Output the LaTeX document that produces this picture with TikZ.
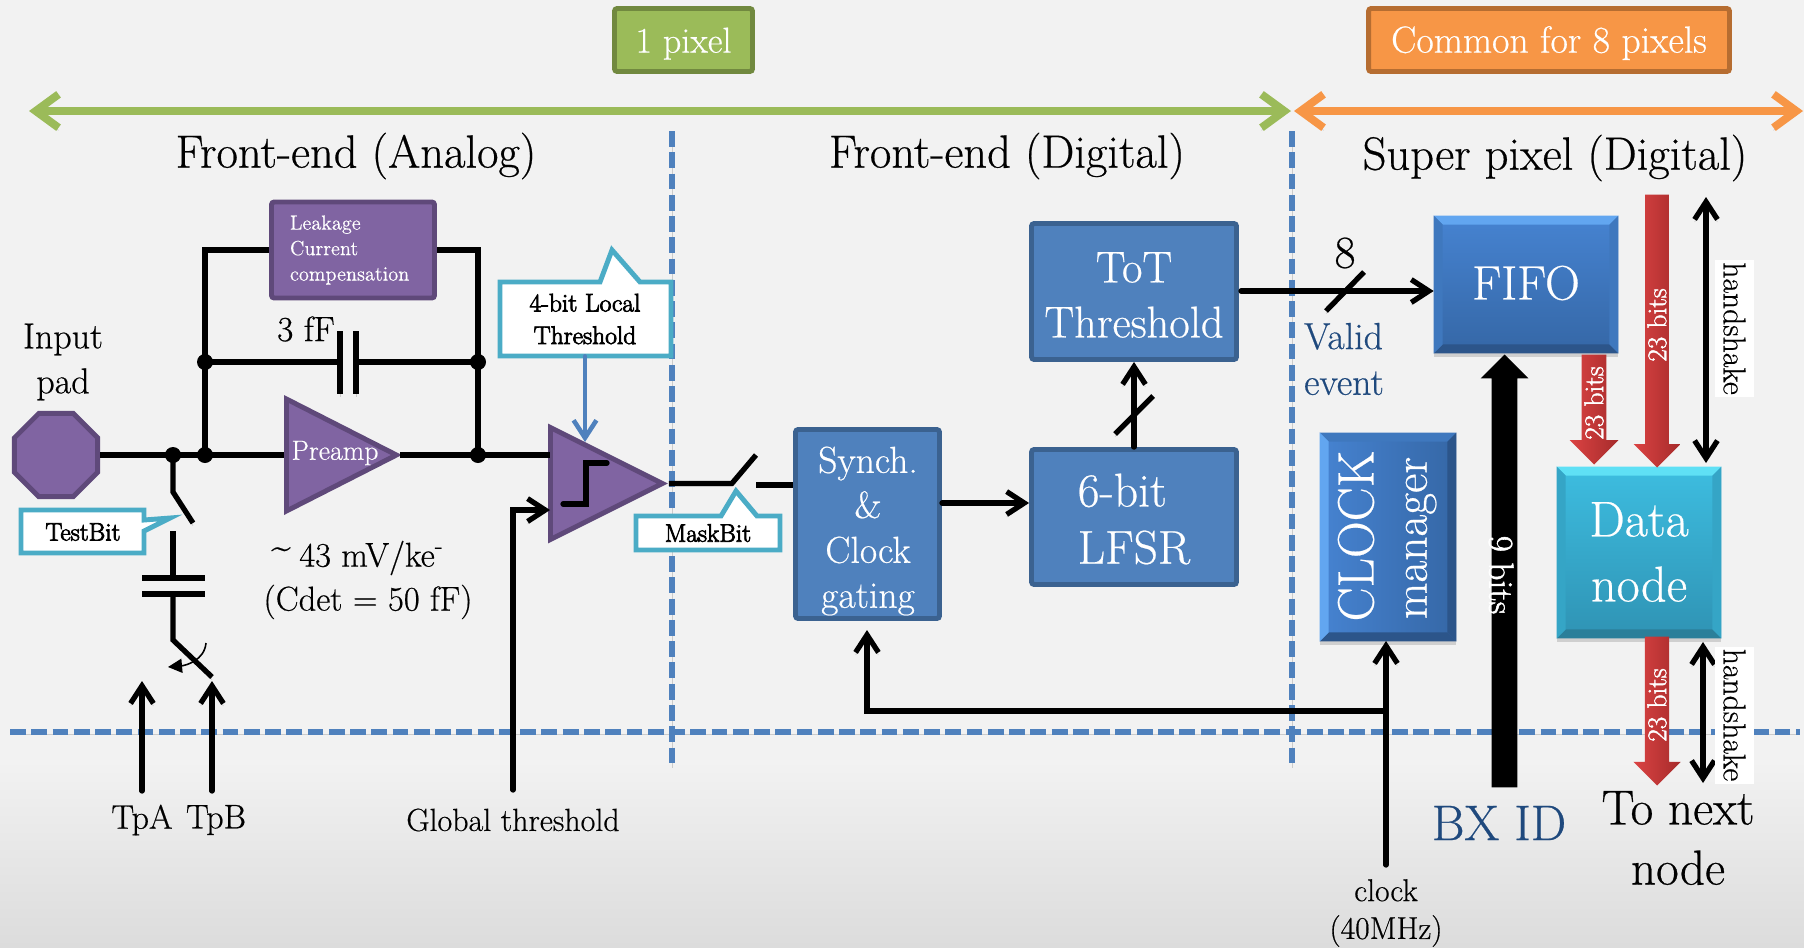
\documentclass[tikz,border=0pt]{standalone}
\usepackage{fontspec}
\setmainfont{Latin Modern Roman}[FakeBold=.5]
\newfontfamily\heavyfont{Latin Modern Roman}[FakeBold=3]
\newfontfamily\midfont{Latin Modern Roman}[FakeBold=1.5]
\usetikzlibrary{arrows.meta,calc,shapes.geometric,shapes.arrows,shadows}

\definecolor{pagegray}{HTML}{F2F2F2}
\definecolor{pagelow}{HTML}{DCDCDC}
\definecolor{navytext}{HTML}{1F497D}
\definecolor{dashblue}{HTML}{4F81BD}
\definecolor{boxblue}{HTML}{4F81BD}
\definecolor{boxedge}{HTML}{3B6290}
\definecolor{purplefill}{HTML}{8064A2}
\definecolor{purpleedge}{HTML}{5F497A}
\definecolor{tealedge}{HTML}{4BACC6}
\definecolor{greenfill}{HTML}{9BBB59}
\definecolor{greenedge}{HTML}{71893F}
\definecolor{orangefill}{HTML}{F79646}
\definecolor{orangeedge}{HTML}{B66D31}
\definecolor{fifotop}{HTML}{4683D1}
\definecolor{fifolow}{HTML}{3567A6}
\definecolor{fifolight}{HTML}{62A6F0}
\definecolor{fifodark}{HTML}{2C558A}
\definecolor{fifomid}{HTML}{3F78BE}
\definecolor{nodetop}{HTML}{3DBDE0}
\definecolor{nodelow}{HTML}{2F93B4}
\definecolor{nodelight}{HTML}{5FE0F5}
\definecolor{nodedark}{HTML}{2A7F9A}
\definecolor{nodemid}{HTML}{35A5C6}
\definecolor{redlight}{HTML}{DB4343}
\definecolor{reddark}{HTML}{A62B2B}

% bevel strips on the shaded blocks: top, bottom, left, right
\newcommand{\bevel}[5]{
  \fill[#2] (#1.north west) -- (#1.north east) -- ($(#1.north east)+(-9,9)$) -- ($(#1.north west)+(9,9)$) -- cycle;
  \fill[#3] (#1.south west) -- (#1.south east) -- ($(#1.south east)+(-9,-9)$) -- ($(#1.south west)+(9,-9)$) -- cycle;
  \fill[#4] (#1.north west) -- (#1.south west) -- ($(#1.south west)+(9,-9)$) -- ($(#1.north west)+(9,9)$) -- cycle;
  \fill[#5] (#1.north east) -- (#1.south east) -- ($(#1.south east)+(-9,-9)$) -- ($(#1.north east)+(-9,9)$) -- cycle;
}

\tikzset{
  softshadow/.style={preaction={draw=black,opacity=.16,transform canvas={yshift=-1.5pt}}},
  wire/.style={line width=3pt,black,softshadow},
  arrowwire/.style={wire,line cap=round,-{Straight Barb[length=10pt,width=13pt]}},
  twowire/.style={wire,line cap=round,{Straight Barb[length=10pt,width=13pt]}-{Straight Barb[length=10pt,width=13pt]}},
  boundary/.style={line width=3.2pt,dashblue,dash pattern=on 9pt off 3.1pt,softshadow},
  span/.style={line width=4.5pt,line cap=round,softshadow,{Straight Barb[length=13pt,width=19pt]}-{Straight Barb[length=13pt,width=19pt]}},
  block/.style={draw=boxedge,fill=boxblue,line width=2.8pt,rounded corners=1.5pt,inner sep=0pt},
  blocktext/.style={text=white,align=center,inner sep=0pt},
  pill/.style={line width=2.8pt,rounded corners=1.5pt,text=white,text height=14.4pt,text depth=0pt},
  amp/.style={shape=isosceles triangle,isosceles triangle stretches,draw=purpleedge,fill=purplefill,line width=2.8pt,inner sep=0pt,anchor=lower side},
  callout/.style={draw=tealedge,fill=white,line width=2.8pt,line join=miter},
  callouttext/.style={align=center,font=\heavyfont\fontsize{14.5}{18.5}\selectfont},
  shaded3d/.style={text=white,drop shadow={shadow xshift=0pt,shadow yshift=-2pt,opacity=.3}},
  fat/.style={shape=single arrow,inner sep=0pt,single arrow tip angle=90,text depth=0pt,rotate=#1,anchor=tip},
  redfat/.style={fat=-90,left color=redlight,right color=reddark},
  bitstext/.style={text=white,inner sep=0pt,font=\midfont\fontsize{15.5}{18}\selectfont},
  shakelabel/.style={fill=white,inner sep=0pt,rotate=-90,minimum width=2.74cm,minimum height=.78cm,font=\fontsize{18}{20}\selectfont},
  head/.style={font=\fontsize{26.5}{29}\selectfont},
  plain/.style={align=center,font=\fontsize{19.4}{25.6}\selectfont}
}

\begin{document}
\begin{tikzpicture}[x=.02cm,y=-.02cm]
\useasboundingbox (0,0) rectangle (1804,947);
\fill[pagegray] (0,0) rectangle (1804,760);
\fill[top color=pagegray,bottom color=pagelow] (0,760) rectangle (1804,947);

% region boundaries
\coordinate (hb0) at (10,732);
\coordinate (hb1) at (1800,732);
\coordinate (vb0) at (672,131);
\coordinate (vb1) at (672,765);
\coordinate (vc0) at (1292,131);
\coordinate (vc1) at (1292,765);
\draw[boundary] (hb0) -- (hb1);
\draw[boundary] (vb0) -- (vb1);
\draw[boundary] (vc0) -- (vc1);

% spans on top
\node[pill,draw=greenedge,fill=greenfill,minimum width=2.76cm,minimum height=1.26cm,font=\fontsize{20.5}{24}\selectfont] (onepixel) at (683.5,40) {1 pixel};
\node[pill,draw=orangeedge,fill=orangefill,minimum width=7.22cm,minimum height=1.26cm,font=\fontsize{21.5}{24}\selectfont] (eightpixels) at (1549,40) {Common for 8 pixels};
\coordinate (spanl) at (29,111);
\coordinate (spanm) at (1291,111);
\coordinate (spann) at (1294,111);
\coordinate (spanr) at (1803,111);
\draw[span,greenfill] (spanl) -- (spanm);
\draw[span,orangefill] (spann) -- (spanr);
\node[head] (hanalog) at (356,156) {Front-end (Analog)};
\node[head] (hdigital) at (1007,156) {Front-end (Digital)};
\node[head] (hsuper) at (1555,158) {Super pixel (Digital)};

% analog part
\node[draw=purpleedge,fill=purplefill,line width=2.8pt,shape=regular polygon,regular polygon sides=8,minimum size=1.8cm,inner sep=0pt] (pad) at (56,455) {};
\node[plain,font=\fontsize{20.5}{25.6}\selectfont] (padtext) at (63,362) {Input\\pad};
\node[block,draw=purpleedge,fill=purplefill,text=white,minimum width=3.26cm,minimum height=1.92cm,text width=2.52cm,align=left,font=\fontsize{11.6}{14.5}\selectfont] (leak) at (353,250) {Leakage\\Current\\compensation};
\node[amp,minimum width=2.24cm,minimum height=2.2cm] (preamp) at (284,455) {};
\node[text=white,inner sep=0pt,font=\fontsize{15.8}{18}\selectfont] (preamptext) at (335,453) {Preamp};
\node[amp,minimum width=2.24cm,minimum height=2.24cm] (comp) at (548,483.5) {};

\coordinate (jtest) at (173,455);
\coordinate (jin) at (205,455);
\coordinate (jout) at (478,455);
\coordinate (jcapl) at (205,362);
\coordinate (jcapr) at (478,362);
\coordinate (capa) at (340,362);
\coordinate (capb) at (356,362);
\coordinate (compin) at (550,455);
\coordinate (compth) at (550,510);
\coordinate (globth) at (513,790);

\draw[wire] (pad.east) -- (preamp.lower side);
\draw[wire,shorten <=-1.5pt] (preamp.apex) -- (compin);
\draw[wire] (jin) |- (leak.west);
\draw[wire] (jout) |- (leak.east);
\draw[wire] (jcapl) -- (capa);
\draw[wire] (capb) -- (jcapr);
\draw[wire] (capa) ++(0,-31) -- ++(0,63);
\draw[wire] (capb) ++(0,-31) -- ++(0,63);
\draw[arrowwire] (globth) |- (compth);
\fill (jtest) circle (8);
\foreach \jn in {jin,jout,jcapl,jcapr}
  \fill (\jn) circle (8);
\draw[line width=3pt,line cap=round] (563,504) -- (586,504) -- (586,463) -- (607,463);
\node[plain,font=\fontsize{20}{22}\selectfont] (capval) at (306,329) {3 fF};
\node[plain,font=\fontsize{19.6}{25}\selectfont] (gain) at (368,580) {\raisebox{5pt}{\textasciitilde}\hspace{5pt}43 mV/ke\textsuperscript{-}\hspace*{12pt}\\(Cdet = 50 fF)};

% test injection
\coordinate (swa) at (173,492);
\coordinate (swb) at (193,523);
\coordinate (plt) at (173,531);
\coordinate (plh) at (173,578);
\coordinate (pll) at (173,594);
\coordinate (swc) at (173,640);
\coordinate (swd) at (212,677);
\coordinate (tpa0) at (142,791);
\coordinate (tpa1) at (142,681);
\coordinate (tpb0) at (212,791);
\coordinate (tpb1) at (212,681);
\draw[wire] (jtest) -- (swa) -- (swb);
\draw[wire] (plt) -- (plh);
\draw[wire] (plh) ++(-31,0) -- ++(63,0);
\draw[wire] (pll) ++(-31,0) -- ++(63,0);
\draw[wire] (pll) -- (swc) -- (swd);
\draw[line width=.9pt,-{Triangle[length=8pt,width=8pt]}] (206,643) to[out=-95,in=5] (168,667);
\draw[arrowwire] (tpa0) -- (tpa1);
\draw[arrowwire] (tpb0) -- (tpb1);
\node[plain,font=\fontsize{19.4}{20}\selectfont] (tpatext) at (142,820) {TpA};
\node[plain,font=\fontsize{19.4}{20}\selectfont] (tpbtext) at (216,820) {TpB};
\node[plain,font=\fontsize{18.2}{20}\selectfont] (globtext) at (513,820) {Global threshold};
\filldraw[callout] (21,510) -- (144,510) -- (144,520) -- (170,518) -- (144,531) -- (144,553) -- (21,553) -- cycle;
\node[callouttext,font=\heavyfont\fontsize{14.4}{17}\selectfont] (testbit) at (83,532) {TestBit};

% threshold tuning
\filldraw[callout] (500,282) -- (600,282) -- (612,250) -- (640,282) -- (671,282) -- (671,356) -- (500,356) -- cycle;
\node[callouttext,inner sep=0pt,minimum width=3.4cm,minimum height=1.48cm] (localth) at (585,319) {4-bit Local\\Threshold};
\coordinate (comptop) at (585,442);
\draw[line width=2.6pt,dashblue,line cap=round,softshadow,-{Straight Barb[length=10pt,width=13pt]}] (localth.south) -- (comptop);

% digital part in the pixel
\node[block,minimum width=2.88cm,minimum height=3.78cm] (sync) at (867.5,524) {};
\node[blocktext,font=\fontsize{21.4}{25.6}\selectfont] (synctext) at (868,531) {Synch.\\\&\\Clock\\gating};
\node[block,minimum width=4.1cm,minimum height=2.72cm] (tot) at (1134,291.5) {};
\node[blocktext,font=\fontsize{25.3}{31.3}\selectfont] (tottext) at (1134,295) {ToT\\Threshold};
\node[block,minimum width=4.1cm,minimum height=2.7cm] (lfsr) at (1134,517) {};
\node[blocktext,align=left,font=\fontsize{27}{32.5}\selectfont] (lfsrtext) at (1134,519) {6-bit\\LFSR};

\coordinate (mskb) at (756,455);
\coordinate (mskc) at (756,485);
\draw[wire] (comp.apex) -- ++(63,0) -- (mskb);
\draw[wire] (mskc) -- (mskc -| sync.west);
\filldraw[callout] (636,516) -- (721,516) -- (736,491) -- (757,516) -- (780,516) -- (780,550) -- (636,550) -- cycle;
\node[callouttext,font=\heavyfont\fontsize{14.4}{17}\selectfont] (maskbit) at (708,533) {MaskBit};

\coordinate (syncout) at (942,503);
\draw[arrowwire] (syncout) -- (syncout -| lfsr.west);
\draw[arrowwire] (lfsr.north) -- (tot.south);
\coordinate (slasha) at (1115,434);
\coordinate (slashb) at (1153,396);
\draw[wire] (slasha) -- (slashb);

% super pixel
\node[shaded3d,top color=fifotop,bottom color=fifolow,minimum width=3.68cm,minimum height=2.74cm,inner sep=0pt] (fifo) at (1526,284.5) {};
\bevel{fifo}{fifolight}{fifodark}{fifomid}{fifomid}
\node[text=white,font=\fontsize{27.5}{30}\selectfont] (fifotext) at (1526,283) {FIFO};
\node[shaded3d,top color=nodetop,bottom color=nodelow,minimum width=3.28cm,minimum height=3.42cm,inner sep=0pt] (dnode) at (1639,552.5) {};
\bevel{dnode}{nodelight}{nodedark}{nodemid}{nodemid}
\node[text=white,align=center,font=\fontsize{28.6}{37}\selectfont] (dnodetext) at (1639,552) {Data\\node};
\node[shaded3d,left color=fifotop,right color=fifolow,minimum width=2.72cm,minimum height=4.16cm,inner sep=0pt] (clk) at (1388,537) {};
\bevel{clk}{fifomid}{fifodark}{fifolight}{fifodark}
\node[text=white,rotate=90,inner sep=0pt,font=\fontsize{29}{30}\selectfont] (clktext) at (1356,536) {CLOCK};
\node[text=white,rotate=90,inner sep=0pt,font=\fontsize{27}{30}\selectfont] (mgrtext) at (1421,538) {manager};

\coordinate (totout) at (1241,291);
\draw[arrowwire] (totout) -- (totout -| fifo.west);
\coordinate (slashc) at (1326,311);
\coordinate (slashd) at (1364,272);
\draw[wire] (slashc) -- (slashd);
\node[font=\fontsize{26}{28}\selectfont] (eight) at (1345,253) {8};
\node[text=navytext,align=left,font=\fontsize{21.5}{26}\selectfont] (validtext) at (1344,359) {Valid\\event};

\coordinate (clkin) at (1386,865);
\coordinate (clkto) at (1386,641);
\coordinate (clkbr) at (1386,711);
\coordinate (syncin) at (867,630);
\draw[arrowwire] (clkin) -- (clkto);
\draw[arrowwire] (clkbr) -| (syncin);
\node[plain,font=\fontsize{18}{21.5}\selectfont] (clktxt) at (1386,913) {clock\\(40MHz)};

\node[fat=90,fill=black,text height=.5cm,minimum height=8.66cm,single arrow head extend=.22cm] (bxarrow) at (1504.5,354) {};
\node[text=white,rotate=-90,inner sep=0pt,font=\midfont\fontsize{20}{24}\selectfont] (ninebits) at (1501,575) {9 bits};
\node[text=navytext,font=\fontsize{28.5}{30}\selectfont] (bxid) at (1499,823) {BX ID};

\node[redfat,text height=.48cm,minimum height=2.2cm,single arrow head extend=.24cm] (reda) at (1594,465) {};
\node[bitstext,rotate=90] (redatext) at (1594,403) {23 bits};
\node[redfat,text height=.46cm,minimum height=5.46cm,single arrow head extend=.23cm] (redb) at (1657,468) {};
\node[bitstext,rotate=90] (redbtext) at (1657,325) {23 bits};
\node[redfat,text height=.47cm,minimum height=2.98cm,single arrow head extend=.23cm] (redc) at (1657,786) {};
\node[bitstext,rotate=90] (redctext) at (1657,705) {23 bits};

\coordinate (hsa) at (1706,197);
\coordinate (hsb) at (1706,463);
\coordinate (hsc) at (1703,642);
\coordinate (hsd) at (1703,783);
\draw[twowire] (hsa) -- (hsb);
\draw[twowire] (hsc) -- (hsd);
\node[shakelabel] (shakea) at (1734.5,328.5) {handshake};
\node[shakelabel] (shakeb) at (1734.5,715) {handshake};
\node[align=center,font=\fontsize{28}{34.2}\selectfont] (nextnode) at (1678,838) {To next\\node};
\end{tikzpicture}
\end{document}
